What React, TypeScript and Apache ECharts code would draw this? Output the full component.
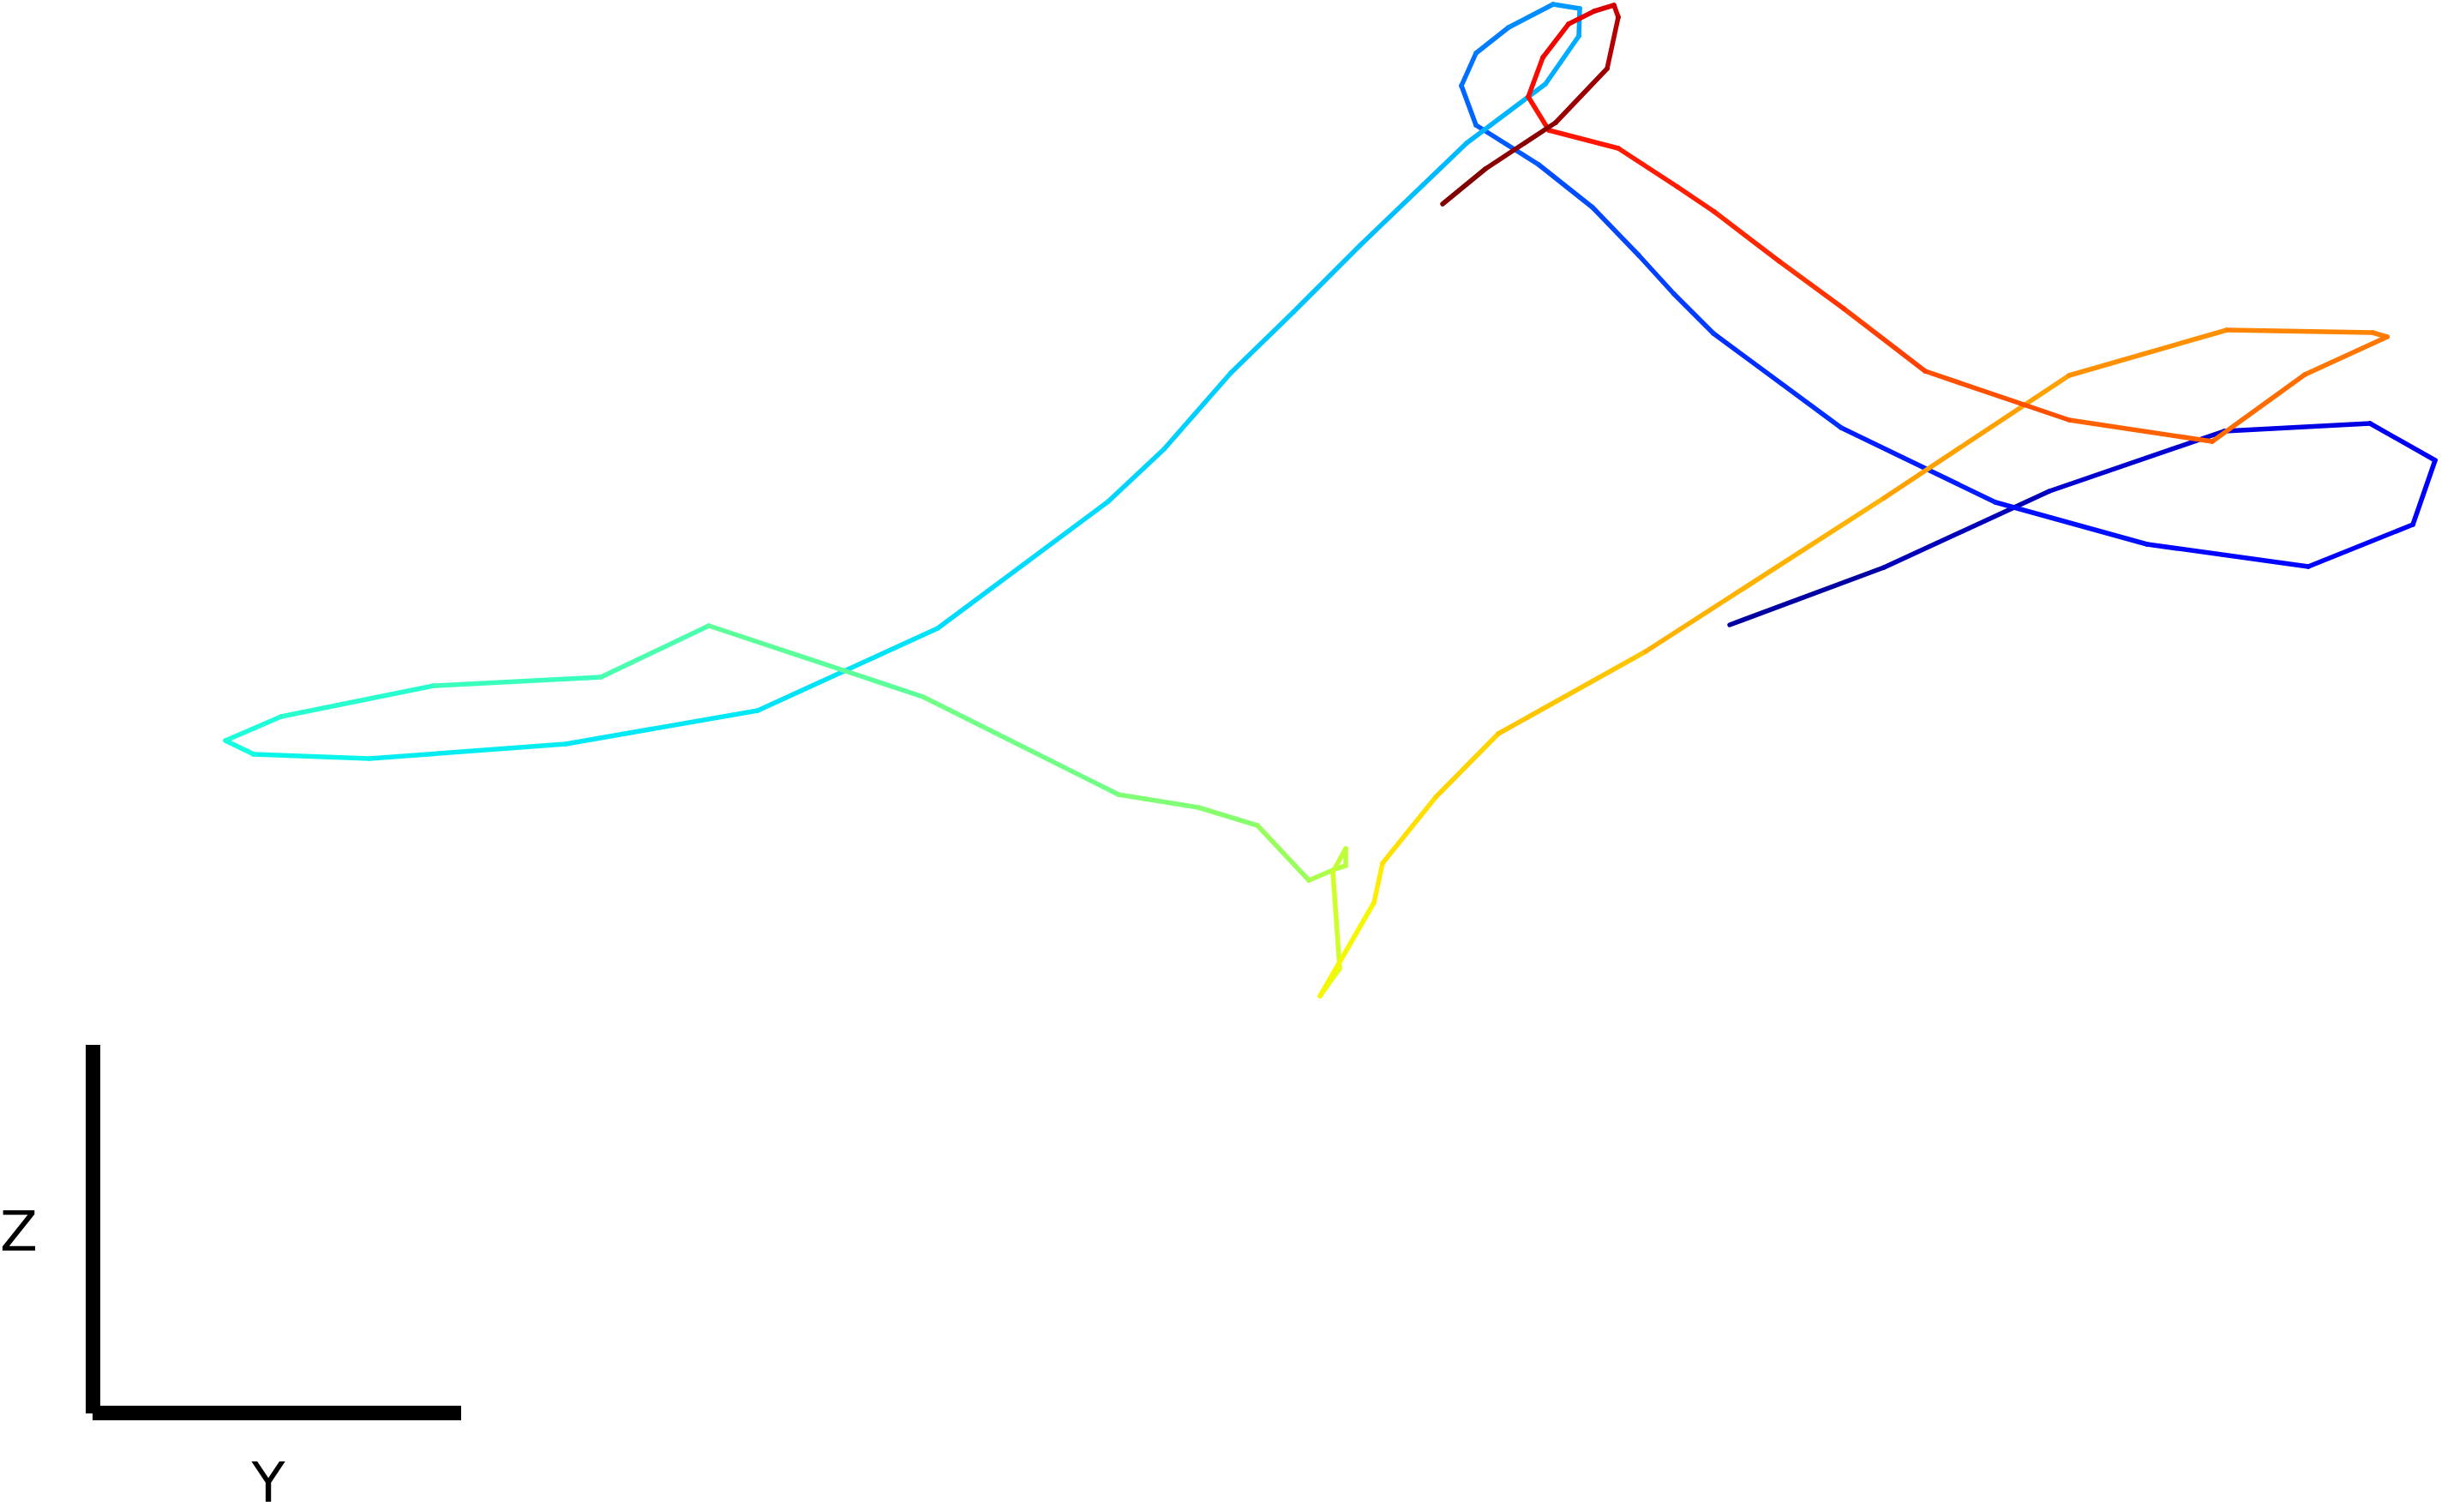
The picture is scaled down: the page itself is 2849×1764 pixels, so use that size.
import React, { useEffect, useRef } from "react";
import * as echarts from "echarts";

// Trajectory projected onto the Y–Z plane (arbitrary units)
const Y = [
  6.18, 7.98, 9.91, 11.95, 13.65, 14.41, 14.15, 12.93, 11.05, 9.28,
  7.48, 5.99, 5.53, 5.12, 4.58, 3.95, 3.22, 3.05, 3.22, 3.6,
  4.12, 4.43, 4.42, 4.03, 3.11, 2.61, 1.87, 1.09, 0.36, -0.42,
  -1.07, -3.06, -5.16, -7.4, -9.69, -11.04, -11.37, -10.72, -8.94, -6.99,
  -5.73, -3.23, -0.95, -0.02, 0.67, 1.27, 1.6, 1.7, 1.7, 1.55,
  1.63, 1.4, 2.03, 2.13, 2.75, 3.48, 5.2, 7.98, 10.14, 11.98,
  13.68, 13.85, 12.89, 11.81, 10.14, 8.46, 7.51, 6.76, 6.0, 5.57,
  4.88, 4.07, 3.83, 4.0, 4.3, 4.6, 4.83, 4.88, 4.75, 4.15,
  3.33, 2.83,
];
const Z = [
  1.71, 2.38, 3.27, 3.97, 4.06, 3.63, 2.88, 2.39, 2.65, 3.14,
  4.01, 5.11, 5.57, 6.02, 6.58, 7.08, 7.54, 8.0, 8.38, 8.68,
  8.95, 8.9, 8.58, 8.02, 7.33, 6.85, 6.14, 5.36, 4.65, 3.76,
  3.15, 1.67, 0.71, 0.32, 0.15, 0.2, 0.36, 0.64, 1.0, 1.1,
  1.7, 0.87, -0.27, -0.42, -0.63, -1.27, -1.13, -1.1, -0.9, -1.17,
  -2.3, -2.62, -1.53, -1.07, -0.3, 0.44, 1.4, 3.19, 4.62, 5.15,
  5.12, 5.07, 4.63, 3.85, 4.1, 4.67, 5.4, 5.95, 6.53, 6.82,
  7.27, 7.48, 7.87, 8.33, 8.72, 8.87, 8.94, 8.8, 8.2, 7.57,
  7.03, 6.62,
];
// Normalised time of each sample (drives the colour map)
const T = [
  0.02, 0.04, 0.06, 0.08, 0.095, 0.105, 0.115, 0.125, 0.135, 0.145,
  0.16, 0.18, 0.185, 0.19, 0.195, 0.205, 0.22, 0.23, 0.24, 0.255,
  0.27, 0.28, 0.29, 0.3, 0.305, 0.31, 0.315, 0.32, 0.325, 0.33,
  0.335, 0.345, 0.35, 0.355, 0.36, 0.37, 0.38, 0.39, 0.41, 0.43,
  0.45, 0.475, 0.5, 0.51, 0.52, 0.55, 0.565, 0.57, 0.58, 0.59,
  0.61, 0.64, 0.655, 0.665, 0.68, 0.69, 0.71, 0.73, 0.75, 0.765,
  0.775, 0.78, 0.79, 0.8, 0.815, 0.835, 0.85, 0.865, 0.875, 0.88,
  0.885, 0.89, 0.895, 0.9, 0.905, 0.915, 0.925, 0.945, 0.965, 0.985,
  0.995, 1.0,
];
const AXIS_LABELS = ["Y", "Z"];

const JET: Record<string, number[][]> = {
  r: [[0, 0], [0.35, 0], [0.66, 1], [0.89, 1], [1, 0.5]],
  g: [[0, 0], [0.125, 0], [0.375, 1], [0.64, 1], [0.91, 0], [1, 0]],
  b: [[0, 0.5], [0.11, 1], [0.34, 1], [0.65, 0], [1, 0]],
};
function interp(pts: number[][], t: number) {
  for (let i = 0; i < pts.length - 1; i++) {
    const [x0, y0] = pts[i];
    const [x1, y1] = pts[i + 1];
    if (t >= x0 && t <= x1) return y0 + ((t - x0) / (x1 - x0)) * (y1 - y0);
  }
  return pts[pts.length - 1][1];
}
function jet(t: number) {
  const c = (k: string) => Math.round(Math.max(0, Math.min(1, interp(JET[k], t))) * 255);
  return `rgb(${c("r")},${c("g")},${c("b")})`;
}

export default function App() {
  const ref = useRef<HTMLDivElement>(null);
  useEffect(() => {
    if (!ref.current) return;
    const chart = echarts.init(ref.current, undefined, { renderer: "svg" });
    const segs = [];
    for (let i = 0; i < Y.length - 1; i++) {
      segs.push({
        coords: [[Y[i], Z[i]], [Y[i + 1], Z[i + 1]]],
        lineStyle: { color: jet((T[i] + T[i + 1]) / 2) },
      });
    }
    chart.setOption({
      animation: false,
      backgroundColor: "#ffffff",
      grid: { left: 0, right: 0, top: 0, bottom: 0 },
      xAxis: { type: "value", min: -14, max: 14.49, show: false },
      yAxis: { type: "value", min: -8.64, max: 9, show: false },
      series: [
        {
          type: "lines",
          coordinateSystem: "cartesian2d",
          silent: true,
          lineStyle: { width: 5.5, opacity: 1, cap: "round", join: "round" },
          data: segs,
        },
      ],
      graphic: [
        { type: "rect", shape: { x: 100, y: 1219, width: 17, height: 430 }, style: { fill: "#000" } },
        { type: "rect", shape: { x: 108, y: 1640, width: 430, height: 17 }, style: { fill: "#000" } },
        {
          type: "text",
          x: 0,
          y: 1437,
          style: {
            text: AXIS_LABELS[1],
            fill: "#000",
            font: "64px 'DejaVu Sans'",
            align: "left",
            verticalAlign: "middle",
          },
        },
        {
          type: "text",
          x: 313,
          y: 1762,
          style: {
            text: AXIS_LABELS[0],
            fill: "#000",
            font: "64px 'DejaVu Sans'",
            align: "center",
            verticalAlign: "bottom",
          },
        },
      ],
    });
    return () => chart.dispose();
  }, []);
  return (
    <div
      ref={ref}
      style={{ position: "fixed", left: 0, top: 0, width: "2849px", height: "1764px" }}
    />
  );
}
